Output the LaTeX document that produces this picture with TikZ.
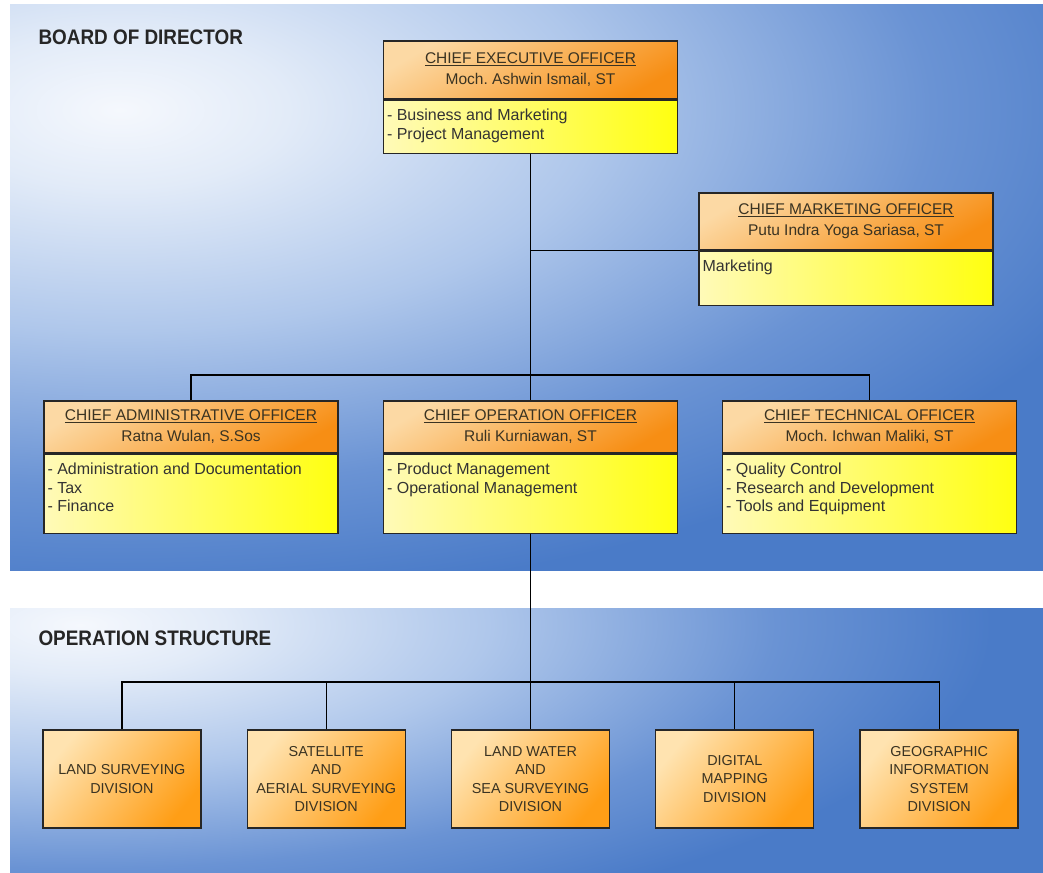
\documentclass[tikz,border=0pt]{standalone}
\usepackage{fontspec}
\setmainfont{Liberation Sans}
\newfontfamily\headfont[FakeStretch=0.9]{Liberation Sans}
\usepackage{tikz}
\usetikzlibrary{positioning}
\usepackage{xcolor}
\frenchspacing
\definecolor{panelwhite}{HTML}{F5F8FD}
\definecolor{panellight}{HTML}{E2EBF8}
\definecolor{panelmid}{HTML}{AFC7EB}
\definecolor{panelblue}{HTML}{6A93D4}
\definecolor{paneldeep}{HTML}{4A7BC8}
\definecolor{hdlight}{HTML}{FCD9A4}
\definecolor{hdorange}{HTML}{F78E14}
\definecolor{bdlight}{HTML}{FFFAB8}
\definecolor{bdyellow}{HTML}{FFFF10}
\definecolor{divlight}{HTML}{FFE3B0}
\definecolor{divorange}{HTML}{FF9E16}
\definecolor{inktext}{HTML}{3A3322}
% the shaded path fills the inner 25bp of the shading
\pgfdeclareradialshading{panelglow}{\pgfpoint{0bp}{0bp}}{%
color(0bp)=(panelwhite); color(3bp)=(panellight); color(8.5bp)=(panelmid);
color(14.5bp)=(panelblue); color(19bp)=(paneldeep); color(50bp)=(paneldeep)}
\tikzstyle{header} = [rectangle, 
minimum width=294pt, 
minimum height=52pt, 
align=center, 
draw=black!85, line width=1.3pt,
top color=hdlight, bottom color=hdorange, shading angle=30,
text=inktext, 
font=\fontsize{15.5}{21}\selectfont]
\tikzstyle{bodybox} = [rectangle, 
minimum width=294pt, 
minimum height=79pt, 
draw=black!85, line width=1.3pt,
left color=bdlight, right color=bdyellow]
\tikzstyle{listtext} = [anchor=north west, 
align=left, 
inner xsep=4pt, inner ysep=9.5pt,
text=black!80, 
font=\fontsize{16}{18.5}\selectfont]
\tikzstyle{division} = [rectangle, 
minimum width=158pt, 
minimum height=98pt, 
align=center, 
draw=black!85, line width=1.3pt,
top color=divlight, bottom color=divorange, shading angle=50,
text=inktext, 
font=\fontsize{14.4}{18.5}\selectfont]
\tikzstyle{section} = [anchor=base west, text=black!85, 
font=\headfont\fontsize{21}{25}\selectfont\bfseries]
\tikzstyle{link} = [line width=1.2pt, black]

\begin{document}
\begin{tikzpicture}[x=1pt, y=-1pt]
	\useasboundingbox (0,0) rectangle (1043,872);
	\fill[white] (0,0) rectangle (1043,872);
	
	% background panels
	\begin{scope}
		\clip (10,5) rectangle (1043,570);
		\shade[shading=panelglow] (120,110) ellipse [x radius=1400pt, y radius=650pt];
	\end{scope}
	\begin{scope}
		\clip (10,608) rectangle (1043,872);
		\shade[shading=panelglow] (80,625) ellipse [x radius=1200pt, y radius=420pt];
	\end{scope}
	
	\node (board) [section] at (35,45) {BOARD OF DIRECTOR};
	\node (opstruct) [section] at (35,645) {OPERATION STRUCTURE};
	
	% officers
	\node (ceo) [header, minimum height=58pt] at (530.5,70) {\underline{CHIEF EXECUTIVE OFFICER}\\Moch. Ashwin Ismail, ST};
	\node (ceobody) [bodybox, minimum height=53pt, below=0pt of ceo] {};
	\node (ceolist) [listtext] at (ceobody.north west) {- Business and Marketing\\- Project Management};
	
	\node (cmo) [header, minimum height=57pt] at (846,221.5) {\underline{CHIEF MARKETING OFFICER}\\Putu Indra Yoga Sariasa, ST};
	\node (cmobody) [bodybox, minimum height=54pt, below=0pt of cmo] {};
	\node (cmolist) [listtext] at (cmobody.north west) {Marketing};
	
	\node (cao) [header] at (191,427) {\underline{CHIEF ADMINISTRATIVE OFFICER}\\Ratna Wulan, S.Sos};
	\node (caobody) [bodybox, below=0pt of cao] {};
	\node (caolist) [listtext] at (caobody.north west) {- Administration and Documentation\\- Tax\\- Finance};
	
	\node (coo) [header] at (530.5,427) {\underline{CHIEF OPERATION OFFICER}\\Ruli Kurniawan, ST};
	\node (coobody) [bodybox, below=0pt of coo] {};
	\node (coolist) [listtext] at (coobody.north west) {- Product Management\\- Operational Management};
	
	\node (cto) [header] at (869.5,427) {\underline{CHIEF TECHNICAL OFFICER}\\Moch. Ichwan Maliki, ST};
	\node (ctobody) [bodybox, below=0pt of cto] {};
	\node (ctolist) [listtext] at (ctobody.north west) {- Quality Control\\- Research and Development\\- Tools and Equipment};
	
	% divisions
	\node (div3) [division] at (530.5,779) {LAND WATER\\AND\\SEA SURVEYING\\DIVISION};
	\node (div2) [division, left=45pt of div3] {SATELLITE\\AND\\AERIAL SURVEYING\\DIVISION};
	\node (div1) [division, left=45pt of div2] {LAND SURVEYING\\DIVISION};
	\node (div4) [division, right=45pt of div3] {DIGITAL\\MAPPING\\DIVISION};
	\node (div5) [division, right=45pt of div4] {GEOGRAPHIC\\INFORMATION\\SYSTEM\\DIVISION};
	
	\coordinate (topbar) at (530.5,375);
	\coordinate (opsbar) at (530.5,682);
	
	\draw [link] (ceobody.south) -- (topbar);
	\draw [link] (ceobody.south) |- (cmo.south west);
	\draw [link] (cao.north) |- (topbar) -| (cto.north);
	\draw [link] (topbar) -- (coo.north);
	\draw [link] (coobody.south) -- (div3.north);
	\draw [link] (div1.north) |- (opsbar) -| (div5.north);
	\draw [link] (div2.north) -- (div2.north |- opsbar);
	\draw [link] (div4.north) -- (div4.north |- opsbar);
	
\end{tikzpicture}
\end{document}
